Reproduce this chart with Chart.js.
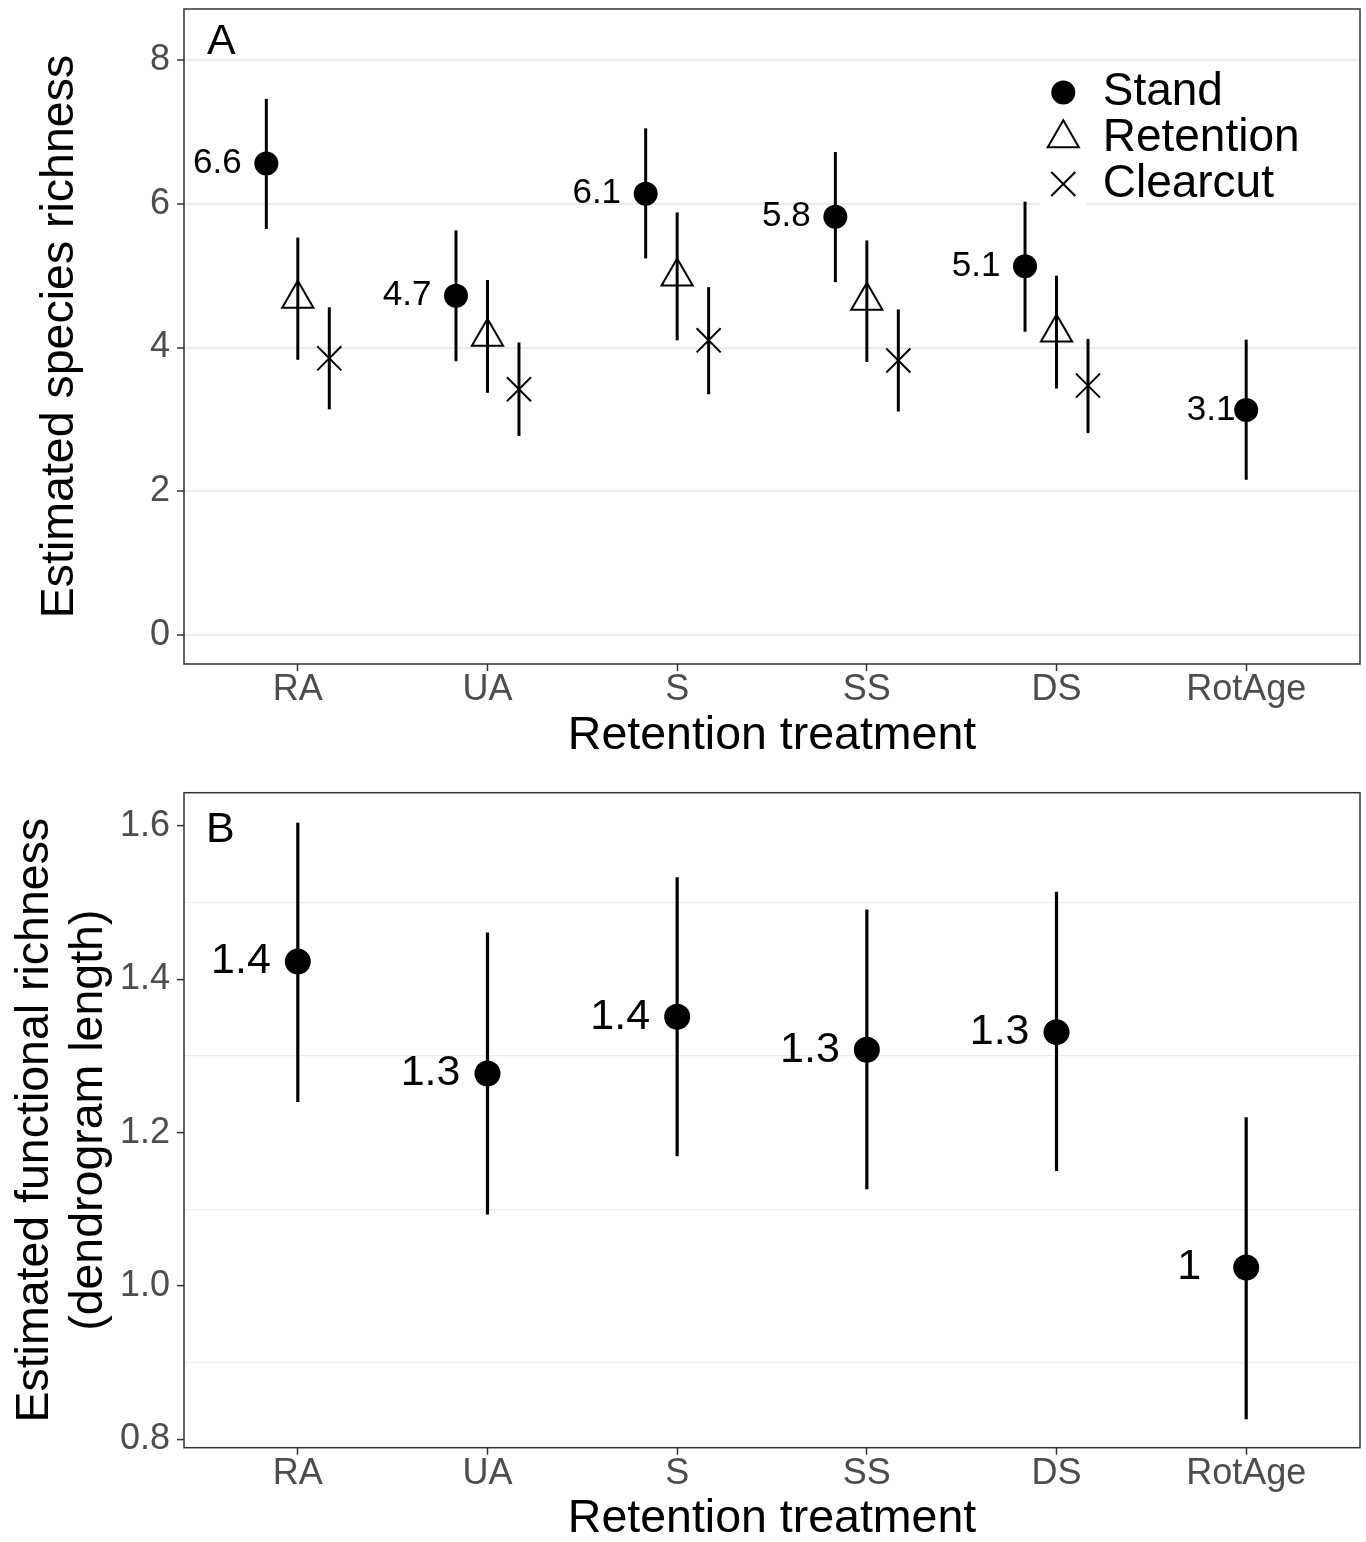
<!DOCTYPE html>
<html>
<head>
<meta charset="utf-8">
<title>Estimated richness by retention treatment</title>
<script src="https://cdn.jsdelivr.net/npm/chart.js@4.4.1/dist/chart.umd.min.js"></script>
<style>
  html, body { margin: 0; padding: 0; background: #fff; }
  #wrapA { position: absolute; left: 0; top: 0; width: 1366px; height: 770px; }
  #wrapB { position: absolute; left: 0; top: 770px; width: 1366px; height: 772px; }
</style>
</head>
<body>
<div id="wrapA"><canvas id="chartA" width="1366" height="770"></canvas></div>
<div id="wrapB"><canvas id="chartB" width="1366" height="772"></canvas></div>
<script>
// categories
const treatments = ['RA', 'UA', 'S', 'SS', 'DS', 'RotAge'];

// panel A: estimated species richness (mean and interval)
const standMean = [6.56, 4.72, 6.14, 5.82, 5.13, 3.13];
const standLow = [5.65, 3.81, 5.24, 4.91, 4.22, 2.16];
const standHigh = [7.46, 5.63, 7.05, 6.72, 6.03, 4.11];
const retentionMean = [4.68, 4.15, 4.99, 4.65, 4.21, null];
const retentionLow = [3.83, 3.37, 4.10, 3.80, 3.43, null];
const retentionHigh = [5.53, 4.94, 5.88, 5.49, 5.00, null];
const clearcutMean = [3.85, 3.42, 4.10, 3.82, 3.47, null];
const clearcutLow = [3.14, 2.77, 3.35, 3.11, 2.81, null];
const clearcutHigh = [4.56, 4.07, 4.84, 4.53, 4.12, null];
const ticksA = [0, 2, 4, 6, 8];

// panel B: estimated functional richness (dendrogram length)
const funcMean = [1.423, 1.277, 1.351, 1.308, 1.331, 1.024];
const funcLow = [1.240, 1.093, 1.169, 1.126, 1.150, 0.826];
const funcHigh = [1.604, 1.461, 1.533, 1.491, 1.514, 1.220];
const majorTicksB = [0.8, 1.0, 1.2, 1.4, 1.6];
const minorTicksB = [0.9, 1.1, 1.3, 1.5];

const FONT = "'Liberation Sans', Arial, Helvetica, sans-serif";
Chart.defaults.font.family = FONT;

// dodge positions (RotAge has only the stand estimate, so it stays centred)
const dodge = 0.166;
const xStand = treatments.map((t, i) => retentionMean[i] == null ? i : i - dodge);
const xRetention = treatments.map((t, i) => i);
const xClearcut = treatments.map((t, i) => i + dodge);
const xFunc = treatments.map((t, i) => i);

// label nudges (axis units, left of the point)
const labelNudgeA = [-0.258, -0.258, -0.258, -0.258, -0.258, -0.185];
const labelNudgeB = [-0.30, -0.30, -0.30, -0.30, -0.30, -0.30];

const styles = {
  Stand: {pointStyle: 'circle', radius: 12, fill: '#000', border: 0},
  Retention: {pointStyle: 'triangle', radius: 18, fill: 'rgba(0,0,0,0)', border: 2},
  Clearcut: {pointStyle: 'crossRot', radius: 17, fill: 'rgba(0,0,0,0)', border: 2}
};

function rangeSets(xs, lows, highs, width) {
  const sets = [];
  lows.forEach((lo, i) => {
    if (lo == null) return;
    sets.push({
      showLine: true,
      data: [{x: xs[i], y: lo}, {x: xs[i], y: highs[i]}],
      borderColor: '#000',
      borderWidth: width,
      pointRadius: 0,
      order: 2
    });
  });
  return sets;
}

function pointSet(label, xs, means, st) {
  return {
    label: label,
    data: means.map((m, i) => m == null ? null : {x: xs[i], y: m}).filter(Boolean),
    pointStyle: st.pointStyle,
    pointRadius: st.radius,
    backgroundColor: st.fill,
    borderColor: '#000',
    borderWidth: st.border,
    order: 1
  };
}

function valueLabels(xs, means, nudges, size) {
  return {
    id: 'valueLabels',
    afterDatasetsDraw(chart) {
      const {ctx, scales: {x, y}} = chart;
      ctx.save();
      ctx.font = size + 'px ' + FONT;
      ctx.fillStyle = '#000';
      ctx.textAlign = 'center';
      ctx.textBaseline = 'middle';
      means.forEach((m, i) => {
        const txt = String(Math.round(m * 10) / 10);
        ctx.fillText(txt, x.getPixelForValue(xs[i] + nudges[i]), y.getPixelForValue(m));
      });
      ctx.restore();
    }
  };
}

function panelFrame(letter, dx, dy) {
  return {
    id: 'panelFrame',
    afterDraw(chart) {
      const {ctx, chartArea: a} = chart;
      ctx.save();
      ctx.strokeStyle = '#333333';
      ctx.lineWidth = 1.5;
      ctx.strokeRect(a.left, a.top, a.right - a.left, a.bottom - a.top);
      ctx.font = '43px ' + FONT;
      ctx.fillStyle = '#000';
      ctx.textAlign = 'left';
      ctx.textBaseline = 'alphabetic';
      ctx.fillText(letter, a.left + dx, a.top + dy);
      ctx.restore();
    }
  };
}

const legendPlugin = {
  id: 'insideLegend',
  afterDatasetsDraw(chart) {
    const {ctx, chartArea: a} = chart;
    const names = ['Stand', 'Retention', 'Clearcut'];
    ctx.save();
    ctx.fillStyle = '#fff';
    ctx.fillRect(a.right - 320, a.top + 60, 47, 138);
    names.forEach((name, k) => {
      const st = styles[name];
      const y = a.top + 83.4 + k * 45.8;
      const x = a.right - 296.7;
      ctx.fillStyle = st.fill;
      ctx.strokeStyle = '#000';
      ctx.lineWidth = st.border;
      if (Chart.helpers && Chart.helpers.drawPoint) {
        Chart.helpers.drawPoint(ctx, {pointStyle: st.pointStyle, radius: st.radius, rotation: 0, borderWidth: st.border}, x, y);
      }
      ctx.fillStyle = '#000';
      ctx.font = '46px ' + FONT;
      ctx.textAlign = 'left';
      ctx.textBaseline = 'middle';
      ctx.fillText(name, a.right - 257.3, y);
    });
    ctx.restore();
  }
};

function xAxis(height, titlePad) {
  return {
    type: 'linear',
    min: -0.6,
    max: 5.6,
    afterBuildTicks: s => { s.ticks = treatments.map((t, i) => ({value: i})); },
    afterFit: s => { s.height = height; s.paddingLeft = 0; s.paddingRight = 0; },
    border: {display: false},
    grid: {drawOnChartArea: false, drawTicks: true, tickLength: 7, tickColor: '#333333', tickWidth: 1.5},
    ticks: {
      autoSkip: false, maxRotation: 0, padding: 1.5,
      color: '#4D4D4D', font: {size: 36, lineHeight: 1},
      callback: v => treatments[v] !== undefined ? treatments[v] : ''
    },
    title: {
      display: true, text: 'Retention treatment', color: '#000',
      font: {size: 46.5, lineHeight: 1}, padding: {top: 0, bottom: titlePad}
    }
  };
}

function fitY(s) {
  s.width = 184;
  s.paddingTop = 0;
  s.paddingBottom = 0;
}

// panel A
new Chart(document.getElementById('chartA'), {
  type: 'scatter',
  data: {
    datasets: [
      ...rangeSets(xStand, standLow, standHigh, 3),
      ...rangeSets(xRetention, retentionLow, retentionHigh, 3),
      ...rangeSets(xClearcut, clearcutLow, clearcutHigh, 3),
      pointSet('Stand', xStand, standMean, styles.Stand),
      pointSet('Retention', xRetention, retentionMean, styles.Retention),
      pointSet('Clearcut', xClearcut, clearcutMean, styles.Clearcut)
    ]
  },
  options: {
    responsive: false,
    animation: false,
    events: [],
    layout: {autoPadding: false, padding: {left: 0, top: 9, right: 6, bottom: 0}},
    plugins: {legend: {display: false}, tooltip: {enabled: false}},
    scales: {
      x: xAxis(106, 10.8),
      y: {
        min: -0.403,
        max: 8.71,
        afterBuildTicks: s => { s.ticks = ticksA.map(v => ({value: v})); },
        afterFit: fitY,
        border: {display: false},
        grid: {color: '#EBEBEB', lineWidth: 2, tickLength: 7, tickColor: '#333333', tickWidth: 1.5},
        ticks: {padding: 7, color: '#4D4D4D', font: {size: 36}},
        title: {
          display: true, text: 'Estimated species richness', color: '#000',
          font: {size: 46.5, lineHeight: 1.15}, padding: {top: 33.3, bottom: 0}
        }
      }
    }
  },
  plugins: [valueLabels(xStand, standMean, labelNudgeA, 35), legendPlugin, panelFrame('A', 23, 45)]
});

// panel B
const isMajorB = v => Math.round(v * 10) % 2 === 0;
new Chart(document.getElementById('chartB'), {
  type: 'scatter',
  data: {
    datasets: [
      ...rangeSets(xFunc, funcLow, funcHigh, 3.2),
      pointSet('Stand', xFunc, funcMean, Object.assign({}, styles.Stand, {radius: 13}))
    ]
  },
  options: {
    responsive: false,
    animation: false,
    events: [],
    layout: {autoPadding: false, padding: {left: 0, top: 22.7, right: 6, bottom: 0}},
    plugins: {legend: {display: false}, tooltip: {enabled: false}},
    scales: {
      x: xAxis(94.3, 0),
      y: {
        min: 0.789,
        max: 1.6433,
        afterBuildTicks: s => {
          s.ticks = majorTicksB.concat(minorTicksB).sort((a, b) => a - b).map(v => ({value: v}));
        },
        afterFit: fitY,
        border: {display: false},
        grid: {
          color: c => isMajorB(c.tick.value) ? 'rgba(0,0,0,0)' : '#EBEBEB',
          lineWidth: 1.2,
          tickLength: 7,
          tickColor: c => isMajorB(c.tick.value) ? '#333333' : 'rgba(0,0,0,0)',
          tickWidth: 1.5
        },
        ticks: {
          padding: 7, color: '#4D4D4D', font: {size: 36},
          callback: v => isMajorB(v) ? v.toFixed(1) : ''
        },
        title: {
          display: true, text: ['Estimated functional richness', '(dendrogram length)'], color: '#000',
          font: {size: 46.5, lineHeight: 1.15}, padding: {top: 8.5, bottom: 0}
        }
      }
    }
  },
  plugins: [valueLabels(xFunc, funcMean, labelNudgeB, 43), panelFrame('B', 22, 49)]
});
</script>
</body>
</html>
